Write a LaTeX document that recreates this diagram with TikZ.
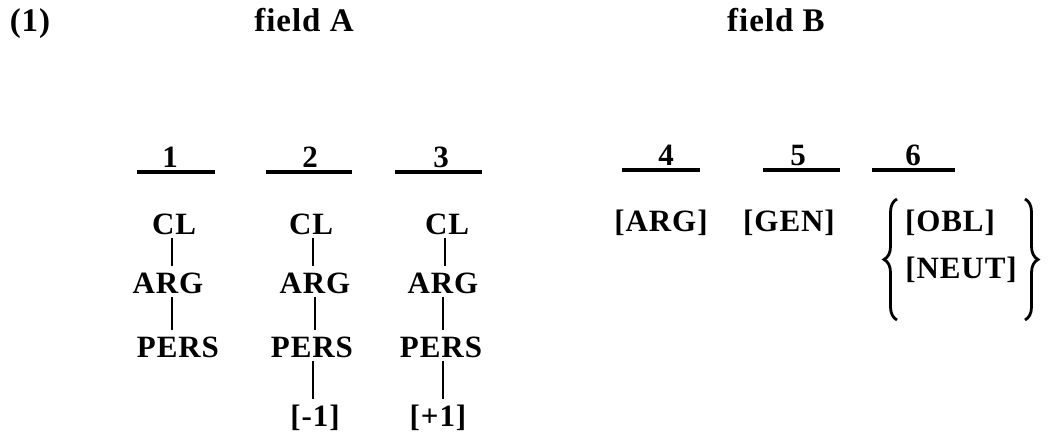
\documentclass[tikz,border=0pt]{standalone}
\usepackage{fontspec}
\setmainfont{Liberation Serif}[LetterSpace=3]
\usetikzlibrary{decorations.pathreplacing}
\begin{document}
\begin{tikzpicture}[x=1pt,y=-1pt,
  every node/.style={font=\fontsize{31}{36}\selectfont\bfseries, inner sep=0pt},
  lbl/.style={text height=20pt, text depth=0pt, inner ysep=3pt},
  head/.style={lbl, font=\fontsize{33}{38}\selectfont\bfseries},
  num/.style={anchor=south, inner sep=0pt, yshift=2pt},
  uline/.style={line width=3.2pt},
  conn/.style={line width=2.8pt, shorten <=1pt, shorten >=4pt},
  brc/.style={line width=2.8pt, decorate, decoration={brace, amplitude=13pt}}]
\useasboundingbox (0,0) rectangle (1048,433);
% headings
\node[head] (ex) at (30,22) {(1)};
\node[head] (fa) at (304,22) {field A};
\node[head] (fb) at (776,22) {field B};
% slot numbers and underlines
\draw[uline] (137,172) -- (215,172);
\draw[uline] (266,172) -- (352,172);
\draw[uline] (395,172) -- (482,172);
\draw[uline] (622,170) -- (700,170);
\draw[uline] (763,170) -- (840,170);
\draw[uline] (872,170) -- (955,170);
\node[num] (n1) at (170,170) {1};
\node[num] (n2) at (310,170) {2};
\node[num] (n3) at (441,170) {3};
\node[num] (n4) at (666,168) {4};
\node[num] (n5) at (798,168) {5};
\node[num] (n6) at (913,168) {6};
% column 1
\node[lbl] (cla) at (174,224) {CL};
\node[lbl] (arga) at (168,283) {ARG};
\node[lbl] (persa) at (178,347) {PERS};
% column 2
\node[lbl] (clb) at (311,224) {CL};
\node[lbl] (argb) at (315,283) {ARG};
\node[lbl] (persb) at (312,347) {PERS};
\node[lbl] (valb) at (315,416) {[-1]};
% column 3
\node[lbl] (clc) at (447,224) {CL};
\node[lbl] (argc) at (443,283) {ARG};
\node[lbl] (persc) at (441,347) {PERS};
\node[lbl] (valc) at (438,416) {[+1]};
% connectors
\draw[conn] (cla.south) ++(-2,0) coordinate (a1) -- (a1 |- arga.north);
\draw[conn] (arga.south) ++(4,0) coordinate (a2) -- (a2 |- persa.north);
\draw[conn] (clb.south) ++(2,0) coordinate (b1) -- (b1 |- argb.north);
\draw[conn] (argb.south) coordinate (b2) -- (b2 |- persb.north);
\draw[conn] (persb.south) ++(1,0) coordinate (b3) -- (b3 |- valb.north);
\draw[conn] (clc.south) ++(-2,0) coordinate (c1) -- (c1 |- argc.north);
\draw[conn] (argc.south) coordinate (c2) -- (c2 |- persc.north);
\draw[conn] (persc.south) ++(2,0) coordinate (c3) -- (c3 |- valc.north);
% field B
\node[lbl] (argB) at (661,221) {[ARG]};
\node[lbl] (genB) at (789,221) {[GEN]};
\node[lbl] (oblB) at (950,221) {[OBL]};
\node[lbl] (neutB) at (961,268) {[NEUT]};
\coordinate (lbt) at (897,199);
\coordinate (lbb) at (897,320);
\coordinate (rbt) at (1025,199);
\coordinate (rbb) at (1025,320);
\draw[brc] (lbb) -- (lbt);
\draw[brc] (rbt) -- (rbb);
\end{tikzpicture}
\end{document}
